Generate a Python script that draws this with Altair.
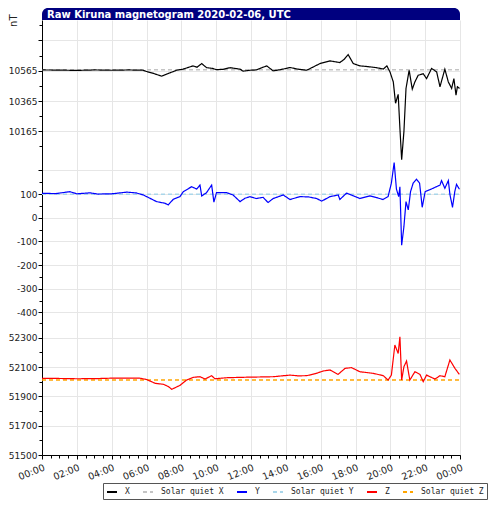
import altair as alt
import pandas as pd

TITLE = "Raw Kiruna magnetogram 2020-02-06, UTC"

# ---- X component (nT) ----
x_hours = [0, 1, 2, 3, 4, 5, 5.8, 6.0, 6.4, 6.87, 7.35, 7.73, 8.1, 8.67, 8.9, 9.17, 9.45, 9.8,
           10.0, 10.4, 10.8, 11.37, 11.55, 11.94, 12.3, 12.9, 13.27, 13.7, 14.24, 14.7, 15.2,
           15.96, 16.53, 17.1, 17.35, 17.58, 17.87, 18.25, 18.7, 19.2, 19.6, 19.8, 19.98, 20.17,
           20.3, 20.45, 20.55, 20.65, 20.78, 20.9, 21.08, 21.26, 21.41, 21.6, 21.89, 22.08, 22.37,
           22.66, 22.85, 23.13, 23.33, 23.52, 23.65, 23.77, 23.85, 23.97]
x_values = [10570, 10569, 10567, 10570, 10568, 10570, 10568, 10560, 10547, 10529, 10551, 10568,
            10575, 10597, 10588, 10612, 10585, 10580, 10572, 10574, 10585, 10575, 10562, 10568,
            10570, 10597, 10564, 10572, 10586, 10575, 10568, 10612, 10630, 10619, 10640, 10671,
            10612, 10597, 10592, 10585, 10576, 10597, 10557, 10491, 10350, 10409, 10185, 9977,
            10163, 10448, 10568, 10443, 10491, 10535, 10545, 10513, 10580, 10557, 10459, 10575,
            10491, 10448, 10513, 10404, 10459, 10448]

# ---- Y component (nT) ----
y_hours = [0, 0.8, 1.6, 2.0, 2.75, 3.2, 4.0, 4.86, 5.4, 5.82, 6.2, 6.58, 7.06, 7.25, 7.54, 7.92,
           8.11, 8.59, 8.88, 9.07, 9.17, 9.45, 9.74, 9.87, 10.02, 10.6, 10.97, 11.37, 11.65, 11.94,
           12.3, 12.7, 12.98, 13.27, 13.85, 14.24, 14.81, 15.3, 15.77, 16.06, 16.53, 17.01, 17.1,
           17.49, 18.25, 18.83, 19.2, 19.58, 19.87, 20.06, 20.22, 20.35, 20.48, 20.55, 20.65, 20.78,
           20.9, 21.03, 21.16, 21.31, 21.5, 21.68, 21.83, 22.0, 22.44, 22.85, 22.94, 23.13, 23.33,
           23.42, 23.57, 23.7, 23.8, 23.97]
y_values = [103, 102, 110, 101, 105, 100, 101, 108, 105, 96, 82, 68, 61, 54, 78, 89,
            110, 131, 121, 138, 92, 106, 138, 66, 106, 106, 96, 68, 82, 89,
            81, 86, 64, 81, 96, 77, 89, 88, 81, 70, 89, 96, 77,
            104, 81, 92, 85, 77, 89, 146, 233, 121, 89, 131, -116, -38,
            68, 33, 110, 146, 163, 146, 44, 110, 124, 138, 157, 124, 157,
            99, 44, 110, 141, 120]

# ---- Z component (nT) ----
z_hours = [0, 1, 2, 3, 4, 5, 5.6, 6.0, 6.5, 6.98, 7.27, 7.45, 7.92, 8.3, 8.69, 9.07, 9.36, 9.74,
           9.93, 10.6, 11.5, 12.4, 13.27, 13.8, 14.24, 14.7, 15.2, 15.7, 16.15, 16.53, 17.0, 17.4,
           17.77, 18.25, 19.02, 19.6, 19.87, 20.06, 20.26, 20.45, 20.55, 20.65, 20.78, 20.93,
           21.12, 21.41, 21.7, 21.89, 22.08, 22.56, 22.85, 23.13, 23.42, 23.71, 23.96]
z_values = [52023, 52022, 52020, 52021, 52024, 52025, 52024, 52015, 51989, 51982, 51966, 51948,
            51975, 52011, 52030, 52034, 52018, 52041, 52020, 52027, 52030, 52032, 52034, 52040,
            52045, 52040, 52041, 52055, 52073, 52080, 52050, 52091, 52096, 52068, 52057, 52041,
            52011, 52045, 52250, 52193, 52307, 52011, 52102, 52141, 52011, 52068, 52050, 52000,
            52045, 52018, 52041, 52034, 52148, 52091, 52050]

# ---- Solar quiet levels (nT) ----
quiet_hours = [0, 24]
quiet_x = [10572, 10572]
quiet_y = [99, 99]
quiet_z = [52011, 52011]

series_names = ["X", "Solar quiet X", "Y", "Solar quiet Y", "Z", "Solar quiet Z"]
series_colors = ["#000000", "#c4c4c4", "#0000ff", "#a9d6ea", "#ff0000", "#ffa500"]
series_dash = [[1, 0], [4, 3], [1, 0], [4, 3], [1, 0], [4, 3]]

# ---- stacked offset scale: each component gets its own band on a shared axis ----
def ux(v):
    return 384.3 + (v - 10565) * 0.1515

def uy(v):
    return 237.3 + v * 0.2366

def uz(v):
    return (v - 51500) * 0.1466

rows = []
for name, hs, vs, f in [("X", x_hours, x_values, ux), ("Y", y_hours, y_values, uy),
                        ("Z", z_hours, z_values, uz),
                        ("Solar quiet X", quiet_hours, quiet_x, ux),
                        ("Solar quiet Y", quiet_hours, quiet_y, uy),
                        ("Solar quiet Z", quiet_hours, quiet_z, uz)]:
    for h, v in zip(hs, vs):
        rows.append({"h": h, "u": round(f(v), 3), "nT": v, "series": name})
df = pd.DataFrame(rows)

# axis ticks
major = ([(ux(v), "" if v == 10765 else str(v)) for v in [10765, 10565, 10365, 10165]] +
         [(uy(v), "" if v == 200 else str(v)) for v in [200, 100, 0, -100, -200, -300, -400]] +
         [(uz(v), str(v)) for v in [52300, 52100, 51900, 51700, 51500]])
major = [(round(u, 3), l) for u, l in major]
minor = ([ux(v) for v in [10865, 10665, 10465, 10265, 10065]] +
         [uy(v) for v in [150, 50, -50, -150, -250, -350]] +
         [uz(v) for v in [52400, 52200, 52000, 51800, 51600]])
minor = [round(u, 3) for u in minor]

label_expr = "''"
for u, l in major:
    label_expr = f"abs(datum.value - {u}) < 0.01 ? '{l}' : (" + label_expr + ")"

W, H = 418, 435
FONT = "DejaVu Sans"

xscale = alt.Scale(domain=[0, 24], nice=False, zero=False)
yscale = alt.Scale(domain=[0, H], nice=False, zero=False)

legend_opts = dict(title="", orient="none", legendX=61, legendY=463,
                   direction="horizontal", columns=6, gridAlign="none",
                   symbolType="stroke", symbolSize=100, symbolStrokeWidth=2,
                   labelFont="DejaVu Sans Mono", labelFontSize=8,
                   labelColor="#222", labelOffset=7, columnPadding=9,
                   padding=3, strokeColor="#555", fillColor="white", rowPadding=0)

color = alt.Color("series:N", scale=alt.Scale(domain=series_names, range=series_colors),
                  legend=alt.Legend(**legend_opts))
dash = alt.StrokeDash("series:N", scale=alt.Scale(domain=series_names, range=series_dash),
                      legend=alt.Legend(**legend_opts))

major_x_axis = alt.Axis(values=list(range(0, 25, 2)), labelExpr="format(datum.value % 24, '02d') + ':00'",
                        labelAngle=-22, labelAlign="right", labelBaseline="top", labelFont=FONT,
                        labelFontSize=9.5, labelColor="#222", tickSize=4, tickColor="#000",
                        domainColor="#000", grid=True, gridColor="#e6e6e6", labelPadding=3,
                        title="", labelFlush=False, labelOverlap=False, orient="bottom")
major_y_axis = alt.Axis(values=[u for u, _ in major], labelExpr=label_expr, labelFont=FONT,
                        labelFontSize=9, labelColor="#222", tickSize=4, tickColor="#000",
                        domainColor="#000", grid=True, gridColor="#e6e6e6", labelPadding=1,
                        labelOverlap=False, labelFlush=False, orient="left",
                        title="nT", titleFont=FONT, titleFontSize=10, titleFontWeight="normal",
                        titleColor="#222", titleAngle=-90, titleX=-34, titleY=-6,
                        titleAlign="right", titleBaseline="top")
minor_x_axis = alt.Axis(values=[h / 2 for h in range(0, 49)], labels=False, tickSize=3,
                        tickColor="#000", domain=False, grid=False, title="", orient="bottom")
minor_y_axis = alt.Axis(values=minor, labels=False, tickSize=3, tickColor="#000", domain=False,
                        grid=False, title="", orient="left")

base = alt.Chart(df)

minor_layer = base.mark_point(opacity=0).encode(
    x=alt.X("h:Q", scale=xscale, axis=minor_x_axis),
    y=alt.Y("u:Q", scale=yscale, axis=minor_y_axis),
)

quiet_layer = base.transform_filter(
    alt.FieldOneOfPredicate(field="series", oneOf=["Solar quiet X", "Solar quiet Y", "Solar quiet Z"])
).mark_line(strokeWidth=1.5).encode(
    x=alt.X("h:Q", scale=xscale, axis=None),
    y=alt.Y("u:Q", scale=yscale, axis=None),
    color=color, strokeDash=dash,
)

main_layer = base.transform_filter(
    alt.FieldOneOfPredicate(field="series", oneOf=["X", "Y", "Z"])
).mark_line(strokeWidth=1.2).encode(
    x=alt.X("h:Q", scale=xscale, axis=major_x_axis),
    y=alt.Y("u:Q", scale=yscale, axis=major_y_axis),
    color=color, strokeDash=dash, order="h:Q",
)

title_df = pd.DataFrame({"title": [TITLE]})
bar = alt.Chart(title_df).mark_rect(color="#00007f", cornerRadiusTopLeft=6,
                                    cornerRadiusTopRight=6).encode(
    x=alt.value(0), x2=alt.value(W), y=alt.value(-12), y2=alt.value(0))
title_text = alt.Chart(title_df).mark_text(color="white", font=FONT, fontSize=10, fontWeight="bold",
                                           align="left", baseline="middle").encode(
    x=alt.value(5), y=alt.value(-5.5), text="title:N")

chart = alt.layer(minor_layer, quiet_layer, main_layer, bar, title_text).resolve_axis(
    x="independent", y="independent"
).properties(
    width=W, height=H, padding={"left": 0, "top": 0, "right": 0, "bottom": 0}, background="white"
).configure_view(strokeWidth=0)

chart.save("out.html", embed_options={"renderer": "svg", "actions": False})
